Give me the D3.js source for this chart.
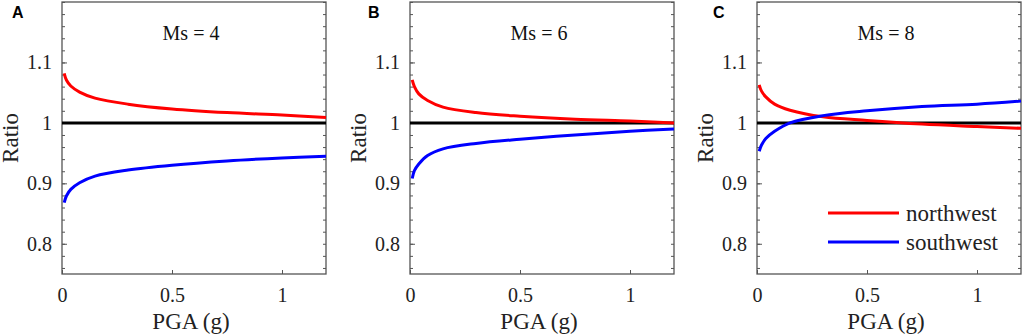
<!DOCTYPE html>
<html>
<head>
<meta charset="utf-8">
<script src="https://cdn.jsdelivr.net/npm/d3@7"></script>
<style>
  body { margin: 0; background: #fff; }
  svg { display: block; }
</style>
</head>
<body>
<svg width="1024" height="335"></svg>
<script>
var svg = d3.select('svg')

// PGA sample points (g)
var pga = [0.01, 0.02, 0.04, 0.08, 0.15, 0.3, 0.5, 0.75, 1.0, 1.2]

var panels = ['A', 'B', 'C']
var titles = ['Ms = 4', 'Ms = 6', 'Ms = 8']

// ratio values
var northwest = [
  [1.082, 1.071, 1.061, 1.051, 1.041, 1.031, 1.023, 1.017, 1.013, 1.009],
  [1.071, 1.060, 1.048, 1.037, 1.026, 1.017, 1.011, 1.006, 1.003, 1.000],
  [1.063, 1.053, 1.043, 1.031, 1.021, 1.010, 1.004, 0.998, 0.994, 0.991]
]
var southwest = [
  [0.868, 0.879, 0.890, 0.901, 0.912, 0.922, 0.930, 0.937, 0.942, 0.945],
  [0.908, 0.921, 0.932, 0.946, 0.957, 0.966, 0.973, 0.980, 0.986, 0.990],
  [0.953, 0.963, 0.974, 0.986, 1.000, 1.012, 1.020, 1.027, 1.031, 1.036]
]

var xTicks = [0, 0.5, 1]
var yTicks = [0.8, 0.9, 1, 1.1]
var yMinor = d3.range(38).map(function (i) { return +(0.76 + i * 0.02).toFixed(2) })

var seriesNames = ['northwest', 'southwest']
var seriesColors = ['#ff0000', '#0000ff']

var lefts = [62, 410, 757]
var letterX = [12, 368, 713]
var w = 264
var yTop = 2
var yBottom = 274

var x = d3.scaleLinear().domain([0, 1.2]).range([0, w])
var y = d3.scaleLinear().domain([0.75, 1.2]).range([yBottom, yTop])

var line = d3.line()
  .x(function (d) { return x(d[0]) })
  .y(function (d) { return y(d[1]) })
  .curve(d3.curveCatmullRom.alpha(0.5))

var serif = '"Liberation Serif", "Times New Roman", serif'
var axisCol = '#555'

panels.forEach(function (p, i) {
  var g = svg.append('g').attr('transform', 'translate(' + lefts[i] + ',0)')

  // minor ticks left and right
  g.append('g')
    .call(d3.axisLeft(y).tickValues(yMinor).tickSize(-3).tickFormat(''))
    .call(function (a) { a.select('.domain').remove() })
    .selectAll('line').attr('stroke', axisCol)
  g.append('g')
    .attr('transform', 'translate(' + w + ',0)')
    .call(d3.axisRight(y).tickValues(yMinor).tickSize(-3).tickFormat(''))
    .call(function (a) { a.select('.domain').remove() })
    .selectAll('line').attr('stroke', axisCol)

  // major y ticks with labels
  var ya = g.append('g')
    .call(d3.axisLeft(y).tickValues(yTicks).tickSizeInner(-5).tickSizeOuter(0).tickPadding(10)
      .tickFormat(function (d) { return d === 1 ? '1' : d3.format('.1f')(d) }))
  ya.select('.domain').remove()
  ya.selectAll('line').attr('stroke', axisCol)
  ya.selectAll('text').attr('font-size', 20).attr('fill', '#222').attr('font-family', serif)

  // x ticks with labels
  var xa = g.append('g')
    .attr('transform', 'translate(0,' + yBottom + ')')
    .call(d3.axisBottom(x).tickValues(xTicks).tickSizeInner(-4).tickSizeOuter(0).tickPadding(14)
      .tickFormat(function (d) { return d === 0 ? '0' : d === 1 ? '1' : d3.format('.1f')(d) }))
  xa.select('.domain').remove()
  xa.selectAll('line').attr('stroke', axisCol)
  xa.selectAll('text').attr('font-size', 20).attr('fill', '#222').attr('font-family', serif)

  // box
  g.append('rect')
    .attr('x', 0).attr('y', yTop)
    .attr('width', w).attr('height', yBottom - yTop)
    .attr('fill', 'none').attr('stroke', axisCol).attr('stroke-width', 1.3)

  // reference line
  g.append('line')
    .attr('x1', 0).attr('x2', w)
    .attr('y1', y(1)).attr('y2', y(1))
    .attr('stroke', '#000').attr('stroke-width', 3)

  var data = [northwest[i], southwest[i]]
  g.selectAll('path.series')
    .data(data)
    .enter()
    .append('path')
    .attr('class', 'series')
    .attr('d', function (d) {
      return line(d.map(function (v, j) { return [pga[j], v] }))
    })
    .attr('fill', 'none')
    .attr('stroke', function (d, k) { return seriesColors[k] })
    .attr('stroke-width', 3)

  // title
  g.append('text')
    .attr('x', w / 2 - 3).attr('y', 40)
    .attr('text-anchor', 'middle')
    .attr('font-family', serif).attr('font-size', 20).attr('fill', '#111')
    .text(titles[i])

  // axis labels
  g.append('text')
    .attr('x', x(0.6) - 3).attr('y', 329)
    .attr('text-anchor', 'middle')
    .attr('font-family', serif).attr('font-size', 23).attr('fill', '#222')
    .text('PGA (g)')
  g.append('text')
    .attr('transform', 'translate(-44,' + 138 + ') rotate(-90)')
    .attr('text-anchor', 'middle')
    .attr('font-family', serif).attr('font-size', 23).attr('fill', '#222')
    .text('Ratio')

  // panel letter
  svg.append('text')
    .attr('x', letterX[i]).attr('y', 18)
    .attr('font-family', 'Arial, "Liberation Sans", sans-serif')
    .attr('font-weight', 'bold').attr('font-size', 16)
    .text(p)
})

// legend in panel C
var leg = svg.append('g').attr('transform', 'translate(828,0)')
seriesNames.forEach(function (name, k) {
  var ly = 213 + k * 29
  leg.append('line')
    .attr('x1', 0).attr('x2', 71)
    .attr('y1', ly).attr('y2', ly)
    .attr('stroke', seriesColors[k]).attr('stroke-width', 3)
  leg.append('text')
    .attr('x', 78).attr('y', ly + 8)
    .attr('font-family', serif).attr('font-size', 23).attr('fill', '#222')
    .text(name)
})
</script>
</body>
</html>
